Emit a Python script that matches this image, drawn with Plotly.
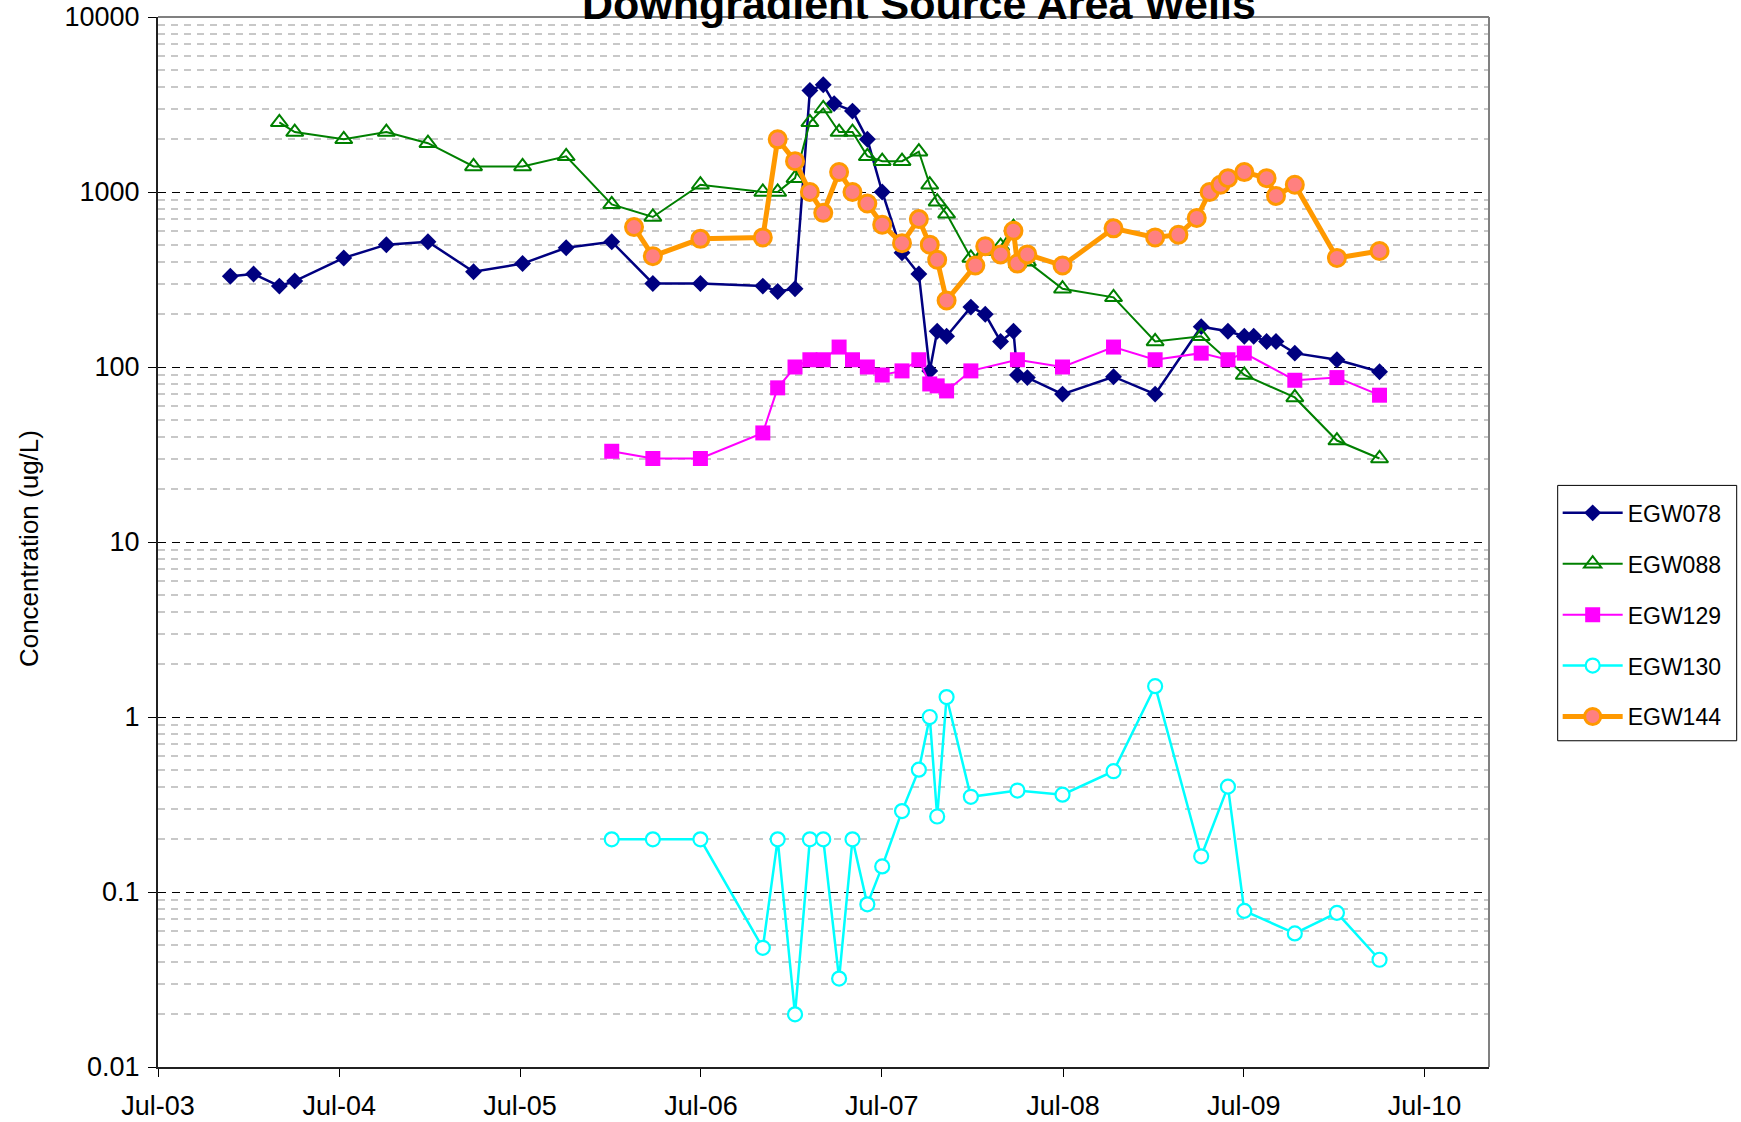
import plotly.graph_objects as go

# ---- Sampling data (concentration, ug/L) ----
egw078_dates = [
    "2003-11-24", "2004-01-10", "2004-03-02", "2004-04-02", "2004-07-10", "2004-10-04",
    "2004-12-27", "2005-03-29", "2005-07-06", "2005-10-02", "2006-01-02", "2006-03-26",
    "2006-06-30", "2006-11-03", "2006-12-03", "2007-01-07", "2007-02-06", "2007-03-05",
    "2007-03-27", "2007-05-03", "2007-06-02", "2007-07-02", "2007-08-11", "2007-09-14",
    "2007-10-06", "2007-10-21", "2007-11-09", "2007-12-28", "2008-01-26", "2008-02-26",
    "2008-03-23", "2008-03-31", "2008-04-20", "2008-06-30", "2008-10-11", "2009-01-03",
    "2009-04-06", "2009-05-30", "2009-07-02", "2009-07-21", "2009-08-16", "2009-09-04",
    "2009-10-12", "2010-01-05", "2010-04-01",
]
egw078_values = [
    330, 340, 290, 310, 420, 500,
    520, 350, 390, 480, 520, 300,
    300, 290, 270, 280, 3800, 4100,
    3200, 2900, 2000, 1000, 450, 340,
    95, 160, 150, 220, 200, 140,
    160, 90, 87, 70, 88, 70,
    170, 160, 150, 150, 140, 140,
    120, 110, 94,
]

egw088_dates = [
    "2004-03-02", "2004-04-02", "2004-07-10", "2004-10-04", "2004-12-27", "2005-03-29",
    "2005-07-06", "2005-10-02", "2006-01-02", "2006-03-26", "2006-06-30", "2006-11-03",
    "2006-12-03", "2007-01-07", "2007-02-06", "2007-03-05", "2007-04-06", "2007-05-03",
    "2007-06-02", "2007-07-02", "2007-08-11", "2007-09-14", "2007-10-06", "2007-10-21",
    "2007-11-09", "2007-12-28", "2008-01-26", "2008-02-26", "2008-03-23", "2008-03-31",
    "2008-04-20", "2008-06-30", "2008-10-11", "2009-01-03", "2009-04-06", "2009-07-02",
    "2009-10-12", "2010-01-05", "2010-04-01",
]
egw088_values = [
    2500, 2200, 2000, 2200, 1900, 1400,
    1400, 1600, 850, 720, 1100, 1000,
    1000, 1200, 2500, 3000, 2200, 2200,
    1600, 1500, 1500, 1700, 1100, 880,
    750, 420, 460, 490, 630, 390,
    400, 280, 250, 140, 150, 90,
    67, 38, 30,
]

egw129_dates = [
    "2006-01-02", "2006-03-26", "2006-06-30", "2006-11-03", "2006-12-03", "2007-01-07",
    "2007-02-06", "2007-03-05", "2007-04-06", "2007-05-03", "2007-06-02", "2007-07-02",
    "2007-08-11", "2007-09-14", "2007-10-06", "2007-10-21", "2007-11-09", "2007-12-28",
    "2008-03-31", "2008-06-30", "2008-10-11", "2009-01-03", "2009-04-06", "2009-05-30",
    "2009-07-02", "2009-10-12", "2010-01-05", "2010-04-01",
]
egw129_values = [
    33, 30, 30, 42, 76, 100,
    110, 110, 130, 110, 100, 90,
    95, 110, 80, 78, 73, 95,
    110, 100, 130, 110, 120, 110,
    120, 84, 87, 69,
]

egw130_dates = [
    "2006-01-02", "2006-03-26", "2006-06-30", "2006-11-03", "2006-12-03", "2007-01-07",
    "2007-02-06", "2007-03-05", "2007-04-06", "2007-05-03", "2007-06-02", "2007-07-02",
    "2007-08-11", "2007-09-14", "2007-10-06", "2007-10-21", "2007-11-09", "2007-12-28",
    "2008-03-31", "2008-06-30", "2008-10-11", "2009-01-03", "2009-04-06", "2009-05-30",
    "2009-07-02", "2009-10-12", "2010-01-05", "2010-04-01",
]
egw130_values = [
    0.2, 0.2, 0.2, 0.048, 0.2, 0.02,
    0.2, 0.2, 0.032, 0.2, 0.085, 0.14,
    0.29, 0.5, 1.0, 0.27, 1.3, 0.35,
    0.38, 0.36, 0.49, 1.5, 0.16, 0.40,
    0.078, 0.058, 0.076, 0.041,
]

egw144_dates = [
    "2006-02-16", "2006-03-26", "2006-06-30", "2006-11-03", "2006-12-03", "2007-01-07",
    "2007-02-06", "2007-03-05", "2007-04-06", "2007-05-03", "2007-06-02", "2007-07-02",
    "2007-08-11", "2007-09-14", "2007-10-06", "2007-10-21", "2007-11-09", "2008-01-06",
    "2008-01-26", "2008-02-26", "2008-03-23", "2008-03-31", "2008-04-20", "2008-06-30",
    "2008-10-11", "2009-01-03", "2009-02-19", "2009-03-28", "2009-04-23", "2009-05-15",
    "2009-05-30", "2009-07-02", "2009-08-16", "2009-09-04", "2009-10-12", "2010-01-05",
    "2010-04-01",
]
egw144_values = [
    630, 430, 540, 550, 2000, 1500,
    1000, 760, 1300, 1000, 860, 650,
    510, 700, 500, 410, 240, 380,
    490, 440, 600, 390, 440, 380,
    620, 550, 570, 710, 1000, 1100,
    1200, 1300, 1200, 950, 1100, 420,
    460,
]

y_tick_values = [0.01, 0.1, 1, 10, 100, 1000, 10000]
y_tick_labels = ["0.01", "0.1", "1", "10", "100", "1000", "10000"]

FONT = "Arial, 'Liberation Sans', sans-serif"

fig = go.Figure()

series = [
    ("EGW078", egw078_dates, egw078_values,
     dict(color="#000080", width=2.5),
     dict(symbol="diamond", size=13, color="#000080")),
    ("EGW088", egw088_dates, egw088_values,
     dict(color="#008000", width=2),
     dict(symbol="triangle-up-open", size=15, color="#008000", line=dict(color="#008000", width=2))),
    ("EGW129", egw129_dates, egw129_values,
     dict(color="#FF00FF", width=2),
     dict(symbol="square", size=15, color="#FF00FF")),
    ("EGW130", egw130_dates, egw130_values,
     dict(color="#00FFFF", width=2.5),
     dict(symbol="circle", size=14, color="white", line=dict(color="#00FFFF", width=2.2))),
    ("EGW144", egw144_dates, egw144_values,
     dict(color="#FF9900", width=5),
     dict(symbol="circle", size=17, color="#FF8080", line=dict(color="#FF9900", width=3))),
]

for name, dates, values, line, marker in series:
    fig.add_trace(go.Scatter(
        x=dates, y=values, name=name, mode="lines+markers",
        line=line, marker=marker, legendgroup=name, cliponaxis=False,
    ))

minor_vals = [m * 10 ** e for e in range(-2, 4) for m in range(2, 10)]

fig.update_layout(
    width=1741, height=1122,
    margin=dict(l=158, r=252, t=17, b=55, autoexpand=False),
    paper_bgcolor="white", plot_bgcolor="white",
    font=dict(family=FONT, size=27, color="black"),
    showlegend=True,
    legend=dict(
        x=1.0516, y=0.5482, xanchor="left", yanchor="top",
        bgcolor="rgba(0,0,0,0)", borderwidth=0,
        font=dict(family=FONT, size=23, color="black"),
        tracegroupgap=18, itemwidth=60,
    ),
    xaxis=dict(
        type="date", range=["2003-07-01", "2010-11-08"],
        tick0="2003-07-01", dtick="M12", tickformat="%b-%y",
        showgrid=False, zeroline=False,
        showline=True, linecolor="#202020", linewidth=2,
        ticks="outside", ticklen=8, tickcolor="black", tickwidth=1,
        tickfont=dict(family=FONT, size=27, color="black"),
        ticklabelstandoff=6,
    ),
    yaxis=dict(
        type="log", range=[-2, 4],
        tickmode="array", tickvals=y_tick_values, ticktext=y_tick_labels,
        showgrid=True, gridcolor="black", gridwidth=1, griddash="8px,6px",
        minor=dict(tickmode="array", tickvals=minor_vals, showgrid=True,
                   gridcolor="#c8c8c8", gridwidth=1.5, griddash="7px,6px", ticks=""),
        zeroline=False,
        showline=True, linecolor="#202020", linewidth=2,
        ticks="outside", ticklen=8, tickcolor="black", tickwidth=1,
        tickfont=dict(family=FONT, size=27, color="black"),
        ticklabelstandoff=3,
    ),
    shapes=[
        # plot frame (top and right edges)
        dict(type="line", xref="paper", yref="paper", x0=0, x1=1, y0=1, y1=1,
             line=dict(color="#808080", width=2)),
        dict(type="line", xref="paper", yref="paper", x0=1, x1=1, y0=0, y1=1,
             line=dict(color="#808080", width=2)),
        # legend box
        dict(type="rect", xref="paper", yref="paper",
             x0=1.0516, x1=1.1861, y0=0.3107, y1=0.5539,
             line=dict(color="black", width=1), fillcolor="rgba(0,0,0,0)"),
    ],
    annotations=[
        dict(text="<b>Downgradient Source Area Wells</b>", xref="paper", yref="paper",
             x=0.5719, y=1.0127, xanchor="center", yanchor="middle", showarrow=False,
             font=dict(family=FONT, size=43, color="black")),
        dict(text="Concentration (ug/L)", xref="paper", yref="paper",
             x=-0.0974, y=0.4936, xanchor="center", yanchor="middle", textangle=-90,
             showarrow=False, font=dict(family=FONT, size=26, color="black")),
    ],
)

fig.write_html("out.html")
